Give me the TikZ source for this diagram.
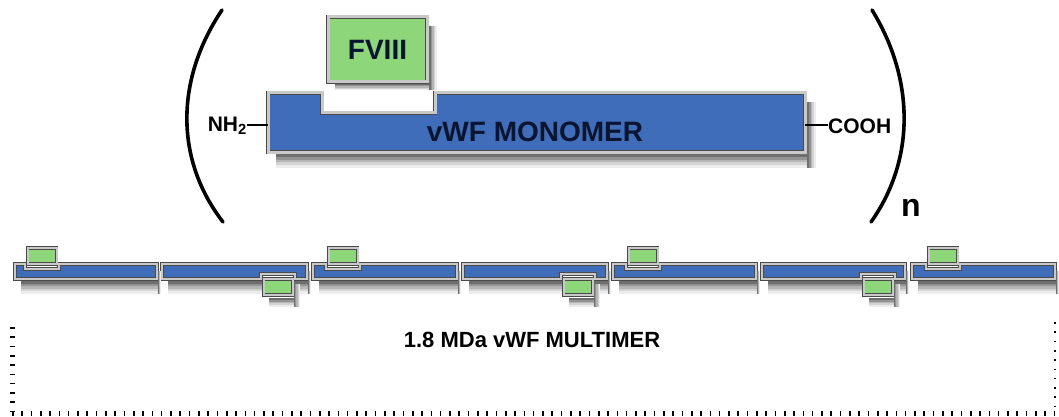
\documentclass[tikz,border=0pt]{standalone}
\usepackage{fontspec}
\setmainfont{Liberation Sans}
\definecolor{vblue}{HTML}{3F6DB9}
\definecolor{vgreen}{HTML}{8ED67A}
\definecolor{rimdark}{HTML}{4A4A4A}
\definecolor{rimlight}{HTML}{C9C9C9}
\definecolor{ink}{HTML}{0B1430}
\definecolor{inkblack}{HTML}{000000}
\definecolor{shc0}{HTML}{6E6E6E}
\definecolor{shc1}{HTML}{939393}
\definecolor{shc2}{HTML}{B5B5B5}
\definecolor{shc3}{HTML}{D3D3D3}
\definecolor{shc4}{HTML}{EDEDED}
\tikzset{
  mono/.style={fill=vblue, draw=rimdark, line width=0.8pt, double=rimlight, double distance=3pt},
  fbox/.style={rectangle, fill=vgreen, draw=rimdark, line width=0.8pt, double=rimlight, double distance=3pt,
    inner sep=0pt, text=ink, font=\fontsize{28}{30}\selectfont\bfseries},
  bar/.style={fill=vblue, draw=rimdark, line width=0.7pt, double=rimlight, double distance=1.8pt},
  sbox/.style={rectangle, fill=vgreen, draw=rimdark, line width=0.7pt, double=rimlight, double distance=2pt,
    inner sep=0pt, minimum width=29pt, minimum height=16pt},
  lbl/.style={inner sep=0pt, text=inkblack, font=\fontsize{21}{23}\selectfont\bfseries},
  paren/.style={draw=inkblack, line width=3.6pt, line cap=round},
  bond/.style={draw=inkblack, line width=2.8pt},
  tickline/.style={draw=inkblack, line width=5pt, dash pattern=on 1.6pt off 7.7pt},
  dotline/.style={draw=inkblack, line width=1.8pt, dash pattern=on 1.6pt off 7.7pt},
}
% shadow as graded strokes: left x, right x, top y, bottom y, band height below, band width right
\newcommand\gradshadow[6]{%
  \pgfmathsetmacro\shLB{#5/5}%
  \pgfmathsetmacro\shLR{#6/5}%
  \foreach \k in {0,1,2,3,4}{
    \draw[draw=shc\k, line width=\shLB pt] (#1,{#4+(\k+0.5)*\shLB}) -- ({#2+#6},{#4+(\k+0.5)*\shLB});
  }
  \foreach \k in {0,1,2,3,4}{
    \draw[draw=shc\k, line width=\shLR pt] ({#2+(\k+0.5)*\shLR},#3) -- ({#2+(\k+0.5)*\shLR},{#4+#5});
  }%
}
\begin{document}
\begin{tikzpicture}[x=1pt, y=-1pt]
\useasboundingbox (0,0) rectangle (1059,417);
% monomer
\draw[mono] (268,93) -- (322,93) -- (322,113) -- (435,113) -- (435,93) -- (805,93)
  -- (805,152) -- (268,152) -- cycle;
\gradshadow{276}{807}{102}{154}{14}{9}
\coordinate (monoW) at (268,125);
\coordinate (monoE) at (805,125);
\node[ink, inner sep=0pt, font=\fontsize{28}{30}\selectfont\bfseries] (monolbl) at (535,132) {vWF MONOMER};
\gradshadow{335}{429}{26}{84}{6}{8}
\node[fbox, minimum width=99pt, minimum height=65pt] (f8) at (377.5,49.5) {FVIII};
% termini
\node[lbl, anchor=east] (nh2) at (247,126) {NH\textsubscript{2}};
\node[lbl, anchor=west] (cooh) at (828,126) {COOH};
\draw[bond] (nh2.east |- monoW) -- (monoW);
\draw[bond] (monoE) -- (cooh.west |- monoE);
% brackets
\draw[paren] (222,10) .. controls (175,80) and (175,160) .. (223,222);
\draw[paren] (872,10) .. controls (915,80) and (915,160) .. (871,222);
\node[inner sep=0pt, text=inkblack, font=\fontsize{32}{34}\selectfont\bfseries] (n) at (911,208) {n};
% multimer bars
\foreach \a/\b/\c in {15/157/27, 313/457/328, 613/756/628, 912/1055/928}{
  \draw[bar] (\a,264) -- ({\c-2},264) -- ({\c-2},269) -- ({\c+32},269) -- ({\c+32},264) -- (\b,264)
    -- (\b,279) -- (\a,279) -- cycle;
}
\foreach \a/\b/\c in {162/307/263, 463/607/563, 762/905/863}{
  \draw[bar] (\a,264) -- (\b,264) -- (\b,279) -- ({\c+32},279) -- ({\c+32},274) -- ({\c-2},274)
    -- ({\c-2},279) -- (\a,279) -- cycle;
}
\foreach \a/\b in {15/157, 162/307, 313/457, 463/607, 613/756, 762/905, 912/1055}{
  \gradshadow{\a+6}{\b+1}{271}{281}{13}{3}
}
% multimer FVIII
\foreach \c/\k in {27/1, 328/3, 628/5, 928/7}{
  \node[sbox] (t\k) at ({\c+15},256) {};
}
\foreach \c/\k in {263/2, 563/4, 863/6}{
  \gradshadow{\c+6}{\c+31}{284}{298}{9}{6}
  \node[sbox] (b\k) at ({\c+15},287) {};
}
\node[inner sep=0pt, text=inkblack, font=\fontsize{22}{24}\selectfont\bfseries] (multi) at (532,340) {1.8 MDa vWF MULTIMER};
% dotted frame
\coordinate (fl1) at (12,327);
\coordinate (fl2) at (12,413);
\coordinate (fr1) at (1055,322);
\coordinate (fr2) at (1055,413);
\draw[tickline] (fl1) -- (fl2);
\draw[tickline] (fl2) -- (fr2);
\draw[dotline] (fr1) -- (fr2);
\end{tikzpicture}
\end{document}
